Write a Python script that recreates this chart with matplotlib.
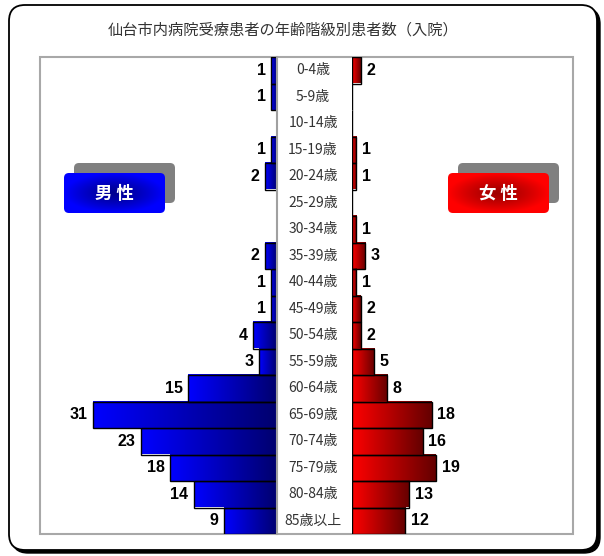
import matplotlib
matplotlib.use('Agg')
import matplotlib.pyplot as plt
import numpy as np
from matplotlib.colors import LinearSegmentedColormap
from matplotlib.patches import FancyBboxPatch, Rectangle

plt.rcParams['font.family'] = ['Noto Sans CJK JP', 'DejaVu Sans']

# --- data ---
age_groups = ['0-4歳', '5-9歳', '10-14歳', '15-19歳', '20-24歳', '25-29歳',
              '30-34歳', '35-39歳', '40-44歳', '45-49歳', '50-54歳', '55-59歳',
              '60-64歳', '65-69歳', '70-74歳', '75-79歳', '80-84歳', '85歳以上']
male = [1, 1, 0, 1, 2, 0, 0, 2, 1, 1, 4, 3, 15, 31, 23, 18, 14, 9]
female = [2, 0, 0, 1, 1, 0, 1, 3, 1, 2, 2, 5, 8, 18, 16, 19, 13, 12]
title = '仙台市内病院受療患者の年齢階級別患者数（入院）'

W, H = 604, 556


def box(x0, y0, x1, y1):
    # pixel box (origin top-left) -> figure fraction rect
    return [x0 / W, 1 - y1 / H, (x1 - x0) / W, (y1 - y0) / H]


fig = plt.figure(figsize=(W / 100, H / 100), dpi=100)

# canvas in pixel units for frame, title and legend badges
cv = fig.add_axes([0, 0, 1, 1])
cv.set_xlim(0, W)
cv.set_ylim(H, 0)
cv.axis('off')

cv.add_patch(FancyBboxPatch((12, 8), 588, 545, boxstyle='round,pad=0,rounding_size=16',
                            fc='black', ec='black', lw=1))
cv.add_patch(FancyBboxPatch((9, 5), 588, 545, boxstyle='round,pad=0,rounding_size=16',
                            fc='white', ec='black', lw=1.3))
cv.text(283, 30, title, ha='center', va='center', fontsize=11, color='#333333')

# plot area border
cv.add_patch(Rectangle((40, 57), 533, 477, fc='none', ec='#a8a8a8', lw=1.5))


def badge(x, y, w, h, text, dark, bright):
    cv.add_patch(FancyBboxPatch((x + 10, y - 10), w, h, boxstyle='round,pad=0,rounding_size=5',
                                fc='#808080', ec='none', zorder=2))
    patch = FancyBboxPatch((x, y), w, h, boxstyle='round,pad=0,rounding_size=5',
                           fc='none', ec='none', zorder=3)
    cv.add_patch(patch)
    gx, gy = np.meshgrid(np.linspace(-1, 1, 200), np.linspace(-1, 1, 80))
    d = np.clip(np.sqrt(gx ** 2 + gy ** 2) ** 1.3, 0, 1)
    cm = LinearSegmentedColormap.from_list('b', [dark, bright])
    im = cv.imshow(d, extent=(x, x + w, y + h, y), cmap=cm, vmin=0, vmax=1,
                   aspect='auto', interpolation='bilinear', zorder=3)
    im.set_clip_path(patch)
    cv.text(x + w / 2, y + h / 2 + 1, text, ha='center', va='center', fontsize=12.5,
            fontweight='bold', color='white', zorder=4)


badge(64, 173, 101, 40, '男 性', '#000090', '#0000ff')
badge(448, 173, 101, 40, '女 性', '#a00000', '#ff0000')
cv.set_xlim(0, W)
cv.set_ylim(H, 0)

n = len(age_groups)
ypos = np.arange(n)


def setup(ax, xlim):
    ax.set_xlim(*xlim)
    ax.set_ylim(n - 0.5, -0.5)
    ax.set_facecolor('none')
    for s in ax.spines.values():
        s.set_visible(False)
    ax.set_xticks([])
    ax.set_yticks([])
    ax.set_autoscale_on(False)


def gradient_bars(ax, bars, cmap):
    g = np.linspace(0, 1, 256)[None, :]
    for b in bars:
        w = b.get_width()
        if w <= 0:
            continue
        x0, y0, h = b.get_x(), b.get_y(), b.get_height()
        ax.imshow(g, extent=(x0, x0 + w, y0 + h, y0), cmap=cmap, aspect='auto',
                  interpolation='bilinear', zorder=1)


label_font = dict(family='Liberation Sans', fontweight='bold', fontsize=11.5, color='black')

# male side (axis grows to the left)
ax_m = fig.add_axes(box(40, 57, 277, 534))
setup(ax_m, (40, 0))
ax_m.spines['right'].set_visible(True)
ax_m.spines['right'].set_color('#a0a0a0')
ax_m.spines['right'].set_linewidth(1.5)
bars_m = ax_m.barh(ypos, male, height=1.0, fc='none', ec='black', lw=1, zorder=2)
gradient_bars(ax_m, bars_m, LinearSegmentedColormap.from_list('m', ['#00006e', '#0000ff']))
for i, v in enumerate(male):
    if v > 0:
        ax_m.annotate(str(v), xy=(v, i), xytext=(-4, 0), textcoords='offset points',
                      ha='right', va='center', **label_font)

# female side
ax_f = fig.add_axes(box(352, 57, 573, 534))
setup(ax_f, (0, 50))
bars_f = ax_f.barh(ypos, female, height=1.0, fc='none', ec='black', lw=1, zorder=2)
gradient_bars(ax_f, bars_f, LinearSegmentedColormap.from_list('f', ['#ff0000', '#640000']))
for i, v in enumerate(female):
    if v > 0:
        ax_f.annotate(str(v), xy=(v, i), xytext=(4, 0), textcoords='offset points',
                      ha='left', va='center', **label_font)

# age group labels in the middle column
ax_c = fig.add_axes(box(277, 57, 352, 534))
setup(ax_c, (0, 1))
for i, lab in enumerate(age_groups):
    ax_c.text(0.48, i, lab, ha='center', va='center', fontsize=10, color='#333333')

fig.savefig('out.png', dpi=100)
